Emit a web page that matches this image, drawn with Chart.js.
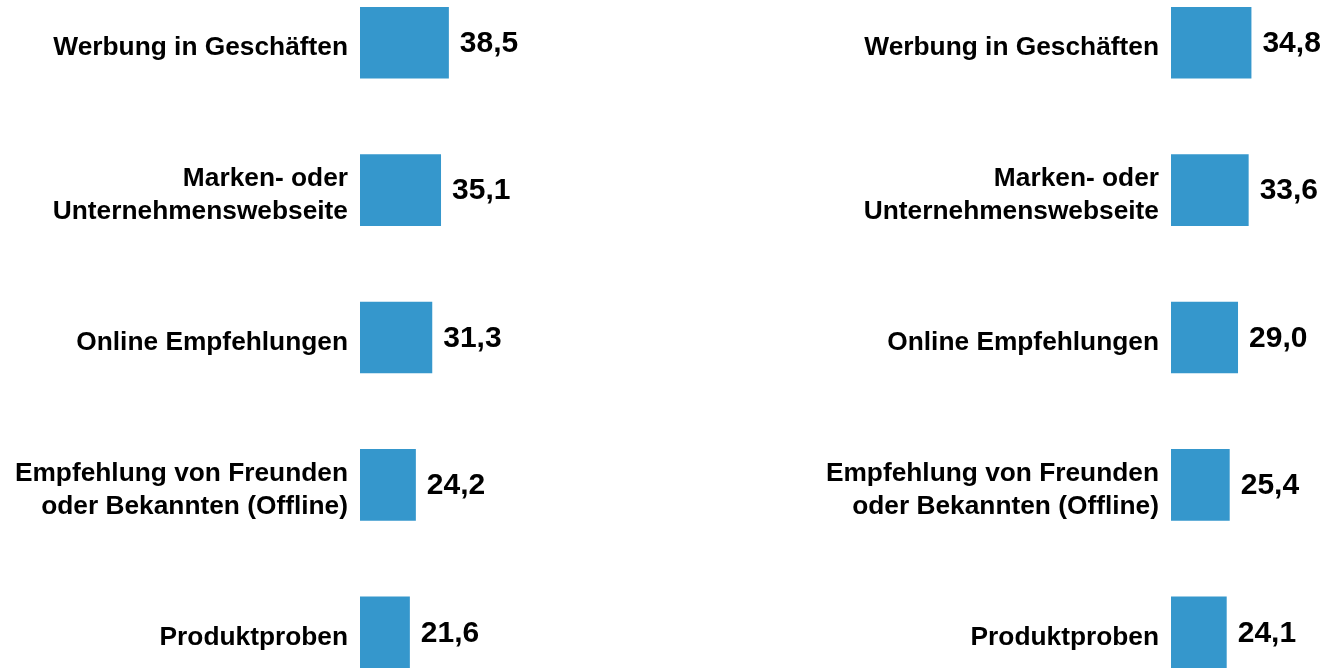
<!DOCTYPE html>
<html lang="de">
<head>
<meta charset="utf-8">
<title>Werbung und Empfehlungen</title>
<script src="https://cdn.jsdelivr.net/npm/chart.js@4.4.1/dist/chart.umd.min.js"></script>
<style>
    html, body {
        margin: 0;
        padding: 0;
        background: #ffffff;
        overflow: hidden;
        width: 1327px;
        height: 668px;
    }
    .panel {
        position: absolute;
        top: -31px;
        height: 737px;
    }
    #left-panel { left: 0; width: 637px; }
    #right-panel { left: 663px; width: 664px; }
</style>
</head>
<body>
<div class="panel" id="left-panel"><canvas id="left-chart"></canvas></div>
<div class="panel" id="right-panel"><canvas id="right-chart"></canvas></div>

<script>
// Categories (same for both panels)
const categories = [
    'Werbung in Geschäften',
    ['Marken- oder', 'Unternehmenswebseite'],
    'Online Empfehlungen',
    ['Empfehlung von Freunden', 'oder Bekannten (Offline)'],
    'Produktproben'
];

// Values in percent
const leftValues = [38.5, 35.1, 31.3, 24.2, 21.6];
const rightValues = [34.8, 33.6, 29.0, 25.4, 24.1];

const barColor = '#3597cc';
const fontFamily = '"Liberation Sans", Arial, Helvetica, sans-serif';

// Draw the value next to each bar, German decimal comma
const valueLabels = {
    id: 'valueLabels',
    afterDatasetsDraw(chart) {
        const ctx = chart.ctx;
        const meta = chart.getDatasetMeta(0);
        const data = chart.data.datasets[0].data;
        ctx.save();
        ctx.font = 'bold 30px ' + fontFamily;
        ctx.fillStyle = '#000000';
        ctx.textAlign = 'left';
        ctx.textBaseline = 'middle';
        meta.data.forEach((bar, i) => {
            ctx.fillText(data[i].toFixed(1).replace('.', ','), bar.x + 11, bar.y + 1);
        });
        ctx.restore();
    }
};

// Category labels sit a little below the bar centre in the original
const labelShift = {
    id: 'labelShift',
    beforeDraw(chart) {
        const items = chart.scales.y.getLabelItems();
        items.forEach(item => {
            if (!item._shifted) {
                item.options.translation[1] += 5;
                item._shifted = true;
            }
        });
    }
};

function createPanel(canvasId, values, axisWidth, xMax) {
    const ctx = document.getElementById(canvasId).getContext('2d');
    return new Chart(ctx, {
        type: 'bar',
        data: {
            labels: categories,
            datasets: [{
                data: values,
                backgroundColor: barColor,
                borderWidth: 0,
                categoryPercentage: 1,
                barPercentage: 0.486
            }]
        },
        options: {
            indexAxis: 'y',
            responsive: true,
            maintainAspectRatio: false,
            animation: false,
            layout: { padding: 0 },
            scales: {
                x: {
                    display: false,
                    min: 0,
                    max: xMax
                },
                y: {
                    grid: { display: false, drawTicks: false, tickLength: 0 },
                    border: { display: false },
                    ticks: {
                        color: '#000000',
                        padding: 12,
                        font: { family: fontFamily, size: 26.3, weight: 'bold', lineHeight: 1.25 }
                    },
                    afterFit: function(scale) {
                        // fixed axis width, no extra space above/below the bars
                        scale.width = axisWidth;
                        scale.paddingTop = 0;
                        scale.paddingBottom = 0;
                    }
                }
            },
            plugins: {
                legend: { display: false },
                tooltip: { enabled: false }
            }
        },
        plugins: [valueLabels, labelShift]
    });
}

document.addEventListener('DOMContentLoaded', function() {
    createPanel('left-chart', leftValues, 360, 120);
    createPanel('right-chart', rightValues, 508, 67.5);
});
</script>
</body>
</html>
